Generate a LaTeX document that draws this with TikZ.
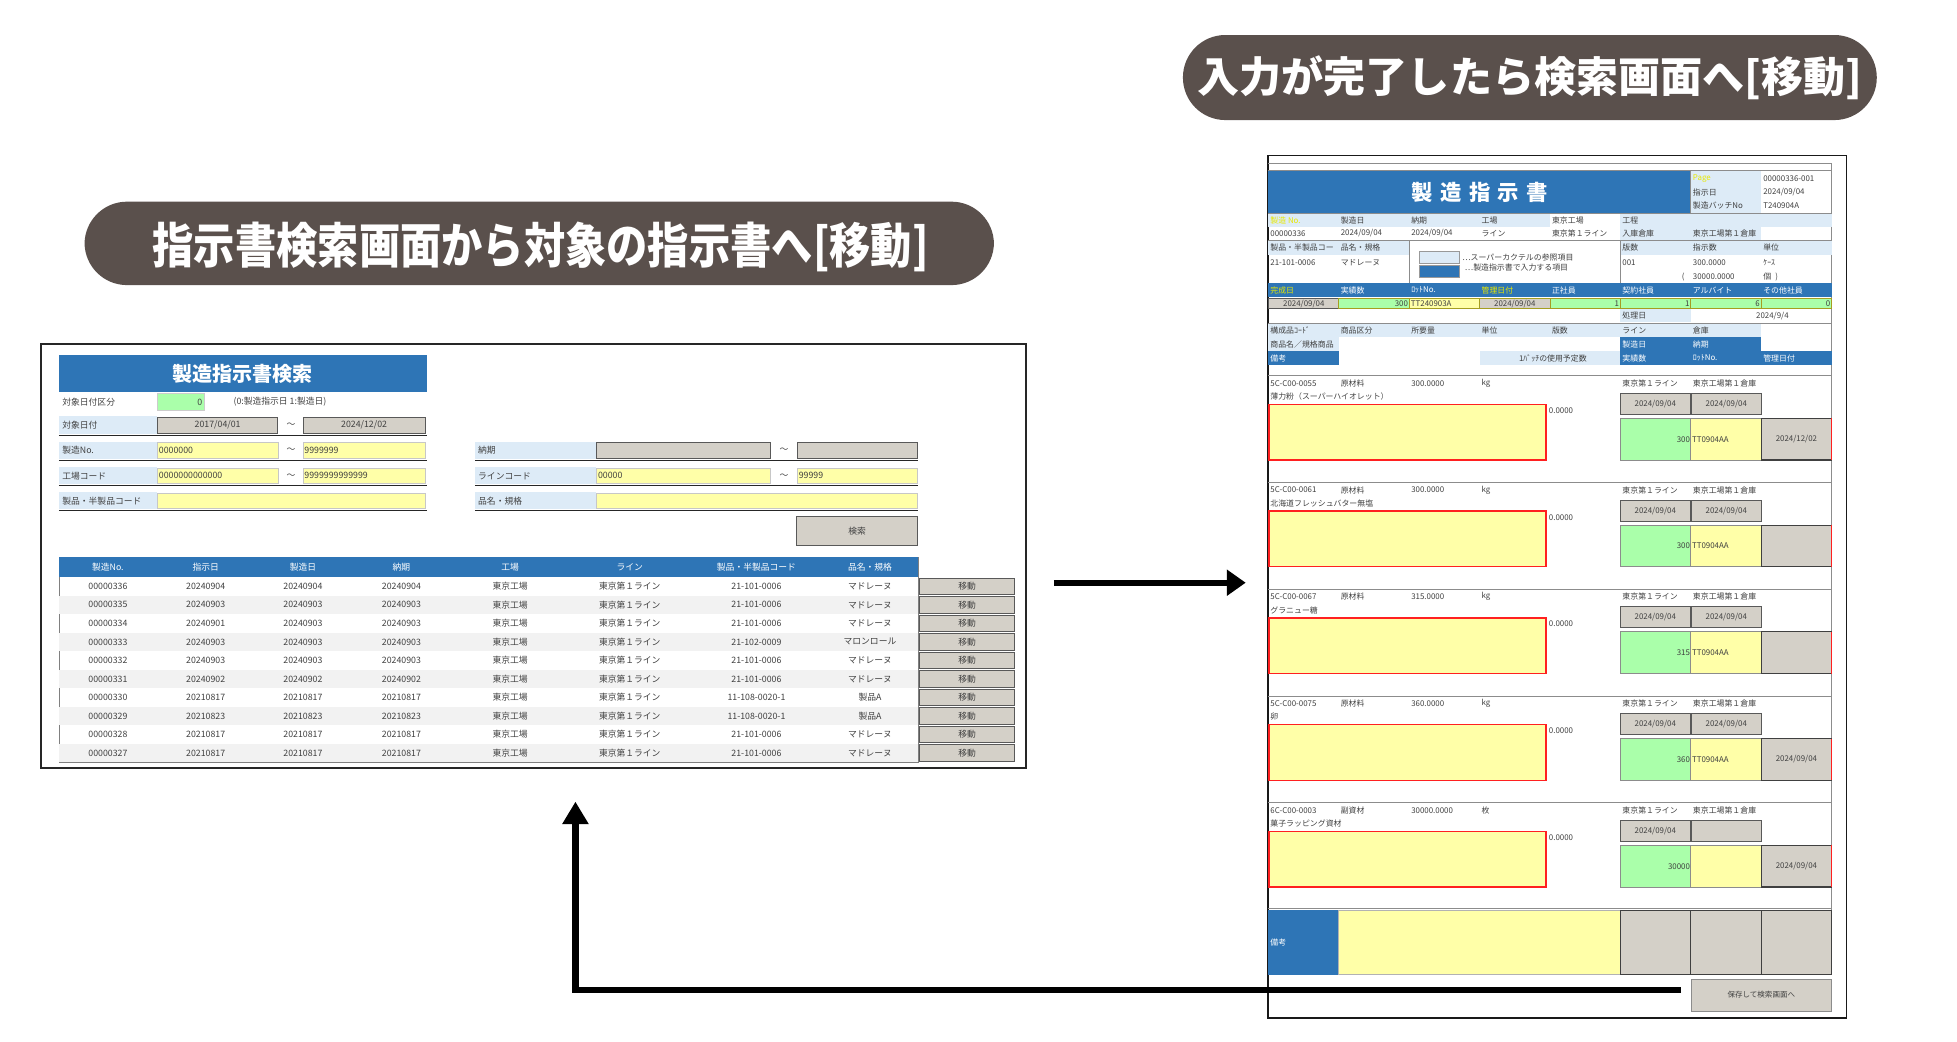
\documentclass[tikz,border=0pt]{standalone}
\usepackage{fontspec}
\usepackage{graphicx}
\setmainfont{Noto Sans CJK JP}
\usetikzlibrary{arrows.meta}
\definecolor{xblue}{HTML}{2E75B6}
\definecolor{xlb}{HTML}{DDEBF7}
\definecolor{xyel}{HTML}{FFFFA8}
\definecolor{xgrn}{HTML}{AAFFAA}
\definecolor{xgry}{HTML}{D4D0C8}
\definecolor{xban}{HTML}{5A504C}
\definecolor{xtxt}{HTML}{404040}
\definecolor{xrow}{HTML}{F2F2F2}
\definecolor{xred}{HTML}{FF2020}
\definecolor{xpage}{HTML}{E8E800}
\newcommand\dA{2024/09/04}
\newcommand\dB{2024/12/02}
\begin{document}
\begin{tikzpicture}[x=1pt,y=-1pt,
  lt/.style={font=\fontsize{7}{8}\selectfont, text=xtxt, inner sep=0pt},
  ltw/.style={font=\fontsize{7}{8}\selectfont, text=white, inner sep=0pt},
  st/.style={font=\fontsize{6.3}{7}\selectfont, text=xtxt, inner sep=0pt, anchor=west},
  stw/.style={st, text=white},
  gbox/.style={fill=xgry, draw=black!65, line width=0.7pt},
  ybox/.style={fill=xyel, draw=black!22, line width=0.5pt},
  grnbox/.style={fill=xgrn, draw=black!55, line width=0.6pt},
  banner/.style={fill=xban, rounded corners=33.8pt, inner sep=0pt},
  bantext/.style={inner sep=0pt, text=white, font=\bfseries},
  bigarrow/.style={line width=5pt, draw=black}
]
\useasboundingbox (0,0) rectangle (1560,830.6);

% ---------------- banners
\node[banner, minimum width=553.1pt, minimum height=67.8pt] (rban) at (1219.5,61.8) {};
\node[bantext] (rbantxt) at (1219.5,61.8)
  {\fontsize{33.5}{36}\selectfont 入力が完了したら検索画面へ[移動]};
\node[banner, minimum width=724.9pt, minimum height=66.5pt] (lban) at (429.85,194)  {};
\node[bantext] (lbantxt) at (431,197)
  {\scalebox{0.94}[1.1]{\fontsize{35}{37}\selectfont 指示書検索画面から対象の指示書へ[移動]}};

% ---------------- left panel
\draw[line width=1.6pt, black!85] (33,274) rectangle (818,612.5);
\fill[xblue] (47,283) rectangle (340,312.5);
\node[font=\bfseries\fontsize{16}{18}\selectfont, text=white, inner sep=0pt] (ltitle) at (193.5,298) {製造指示書検索};

\node[lt, anchor=west] (l0) at (49.5,320.5) {対象日付区分};
\filldraw[fill=xgrn, draw=black!20] (125.5,313.5) rectangle (163,327);
\node[lt, anchor=east] (l0v) at (161.5,320.5) {0};
\node[lt, anchor=west] (l0h) at (186,320.5) {(0:製造指示日 1:製造日)};

% row 1
\fill[xlb] (47,332) rectangle (125,346);
\node[lt, anchor=west] (l1) at (49.5,339) {対象日付};
\filldraw[gbox] (125.5,332.5) rectangle (221.5,345.5);
\node[lt] (l1a) at (173.5,339) {2017/04/01};
\node[lt] (l1t) at (232,339) {～};
\filldraw[gbox] (241.5,332.5) rectangle (339,345.5);
\node[lt] (l1b) at (290.25,339) {2024/12/02};
\draw[black!85, line width=0.7pt] (47,347) -- (340,347);

% row 2
\fill[xlb] (47,352) rectangle (125,366);
\node[lt, anchor=west] (l2) at (49.5,359) {製造No.};
\filldraw[ybox] (125.5,352.5) rectangle (221.5,365.5);
\node[lt, anchor=west] (l2a) at (126.5,359) {0000000};
\node[lt] (l2t) at (232,359) {～};
\filldraw[ybox] (241.5,352.5) rectangle (339,365.5);
\node[lt, anchor=west] (l2b) at (242.5,359) {9999999};
\draw[black!85, line width=0.7pt] (47,366.8) -- (340,366.8);
\fill[xlb] (378.5,352) rectangle (474.9,366);
\node[lt, anchor=west] (r2) at (381,359) {納期};
\filldraw[gbox] (475.4,352.5) rectangle (614.4,365.5);
\node[lt] (r2t) at (625,359) {～};
\filldraw[gbox] (635.6,352.5) rectangle (731.5,365.5);
\draw[black!85, line width=0.7pt] (378.5,366.8) -- (731.5,366.8);

% row 3
\fill[xlb] (47,372.5) rectangle (125,386);
\node[lt, anchor=west] (l3) at (49.5,379.25) {工場コード};
\filldraw[ybox] (125.5,373) rectangle (221.5,385.5);
\node[lt, anchor=west] (l3a) at (126.5,379.25) {0000000000000};
\node[lt] (l3t) at (232,379.25) {～};
\filldraw[ybox] (241.5,373) rectangle (339,385.5);
\node[lt, anchor=west] (l3b) at (242.5,379.25) {9999999999999};
\draw[black!85, line width=0.7pt] (47,387) -- (340,387);
\fill[xlb] (378.5,372.5) rectangle (474.9,386);
\node[lt, anchor=west] (r3) at (381,379.25) {ラインコード};
\filldraw[ybox] (475.4,373) rectangle (614.4,385.5);
\node[lt, anchor=west] (r3a) at (476.5,379.25) {00000};
\node[lt] (r3t) at (625,379.25) {～};
\filldraw[ybox] (635.6,373) rectangle (731.5,385.5);
\node[lt, anchor=west] (r3b) at (636.6,379.25) {99999};
\draw[black!85, line width=0.7pt] (378.5,387) -- (731.5,387);

% row 4
\fill[xlb] (47,392.5) rectangle (125,406);
\node[lt, anchor=west] (l4) at (49.5,399.25) {製品・半製品コード};
\filldraw[ybox] (125.5,393) rectangle (339,405.5);
\draw[black!85, line width=0.7pt] (47,407) -- (340,407);
\fill[xlb] (378.5,392.5) rectangle (474.9,406);
\node[lt, anchor=west] (r4) at (381,399.25) {品名・規格};
\filldraw[ybox] (475.4,393) rectangle (731.5,405.5);
\draw[black!85, line width=0.7pt] (378.5,407) -- (731.5,407);

% search button
\filldraw[gbox] (635,412) rectangle (731.5,434.5);
\node[lt] (sbtn) at (683.25,423.25) {検索};

% table
\filldraw[fill=white, draw=black!50, line width=0.6pt] (47,444) rectangle (732,607.5);
\fill[xblue] (47,444) rectangle (732,460);
\foreach \hx/\hdt [count=\hn] in {86/製造No.,164/指示日,241.5/製造日,320/納期,406.6/工場,502/ライン,603/製品・半製品コード,693.5/品名・規格}
  \node[ltw] (th\hn) at (\hx,452) {\hdt};
\foreach \ri in {1,3,5,7,9}
  \fill[xrow] (47.4,{460+14.75*\ri}) rectangle (731.6,{474.75+14.75*\ri});
\draw[black!50, line width=0.6pt] (47,607.5) -- (732,607.5);
\foreach \ri/\ta/\tb/\tcc/\td/\te/\tf in {
 0/00000336/20240904/20240904/20240904/21-101-0006/マドレーヌ,
 1/00000335/20240903/20240903/20240903/21-101-0006/マドレーヌ,
 2/00000334/20240901/20240903/20240903/21-101-0006/マドレーヌ,
 3/00000333/20240903/20240903/20240903/21-102-0009/マロンロール,
 4/00000332/20240903/20240903/20240903/21-101-0006/マドレーヌ,
 5/00000331/20240902/20240902/20240902/21-101-0006/マドレーヌ,
 6/00000330/20210817/20210817/20210817/11-108-0020-1/製品A,
 7/00000329/20210823/20210823/20210823/11-108-0020-1/製品A,
 8/00000328/20210817/20210817/20210817/21-101-0006/マドレーヌ,
 9/00000327/20210817/20210817/20210817/21-101-0006/マドレーヌ}
{
  \pgfmathsetmacro\ry{467.4+14.75*\ri}
  \node[lt] (tra\ri) at (86,\ry) {\ta};
  \node[lt] (trb\ri) at (164,\ry) {\tb};
  \node[lt] (trc\ri) at (241.5,\ry) {\tcc};
  \node[lt] (trd\ri) at (320,\ry) {\td};
  \node[lt] (tre\ri) at (406.6,\ry) {東京工場};
  \node[lt] (trf\ri) at (502,\ry) {東京第１ライン};
  \node[lt] (trg\ri) at (603,\ry) {\te};
  \node[lt] (trh\ri) at (693.5,\ry) {\tf};
  \filldraw[gbox] (733,{\ry-6.7}) rectangle (809,{\ry+6.6});
  \node[lt] (trm\ri) at (771,\ry) {移動};
}

% ---------------- right panel
\begin{scope}[xshift=-6pt]
\draw[line width=1.3pt, black!90] (1017,124) rectangle (1478,811.5);
\draw[black!45, line width=0.8pt] (1017,130) -- (1466,130) -- (1466,777);

% title block
\fill[xblue] (1017,136) rectangle (1353.8,170);
\node[font=\bfseries\fontsize{17}{19}\selectfont, text=white, inner sep=0pt] (stitle) at (1185.5,153)
  {製\hspace{6pt}造\hspace{6pt}指\hspace{6pt}示\hspace{6pt}書};
\fill[xlb] (1353.8,136) rectangle (1409.9,170);
\node[st, text=xpage] (pg) at (1355.3,142.1) {Page};
\node[st] (pgv) at (1411.4,142.1) {00000336-001};
\node[st] (pd) at (1355.3,153.3) {指示日};
\node[st] (pdv) at (1411.4,153.3) {2024/09/04};
\node[st] (pb) at (1355.3,163.8) {製造バッチNo};
\node[st] (pbv) at (1411.4,163.8) {T240904A};
\draw[black!45, line width=0.6pt] (1017,136) -- (1466,136);
\draw[black!45, line width=0.6pt] (1353.8,136) -- (1353.8,170);
\draw[black!45, line width=0.6pt] (1017,170) -- (1466,170);

% row A / B
\fill[xlb] (1017,170.4) rectangle (1241.5,180.8);
\fill[xlb] (1297.6,170.4) rectangle (1466,180.8);
\fill[xlb] (1297.6,180.8) rectangle (1409.9,191.2);
\node[st, text=xpage] (a0) at (1018.5,175.6) {製造 No.};
\node[st] (a1) at (1074.6,175.6) {製造日};
\node[st] (a2) at (1130.8,175.6) {納期};
\node[st] (a3) at (1186.9,175.6) {工場};
\node[st] (a4) at (1243,175.6) {東京工場};
\node[st] (a5) at (1299.1,175.6) {工程};
\node[st] (b0) at (1018.5,186) {00000336};
\node[st] (b1) at (1074.6,186) {2024/09/04};
\node[st] (b2) at (1130.8,186) {2024/09/04};
\node[st] (b3) at (1186.9,186) {ライン};
\node[st] (b4) at (1243,186) {東京第１ライン};
\node[st] (b5) at (1299.1,186) {入庫倉庫};
\node[st] (b6) at (1355.3,186) {東京工場第１倉庫};
\draw[black!45, line width=0.6pt] (1017,191.5) -- (1466,191.5);

% block C
\fill[xlb] (1017,191.9) rectangle (1129.3,203.2);
\fill[xlb] (1297.6,191.9) rectangle (1466,203.2);
\node[st] (c0) at (1018.5,197.5) {製品・半製品コー};
\node[st] (c1) at (1074.6,197.5) {品名・規格};
\node[st] (c5) at (1299.1,197.5) {版数};
\node[st] (c6) at (1355.3,197.5) {指示数};
\node[st] (c7) at (1411.4,197.5) {単位};
\node[st] (d0) at (1018.5,209) {21-101-0006};
\node[st] (d1) at (1074.6,209) {マドレーヌ};
\node[st] (d5) at (1299.1,209) {001};
\node[st] (d6) at (1355.3,209) {300.0000};
\node[st] (d7) at (1411.4,209) {ｹｰｽ};
\node[st] (e5) at (1346.5,220.5) {(};
\node[st] (e6) at (1355.3,220.5) {30000.0000};
\node[st] (e7) at (1411.4,220.5) {個};
\node[st] (e8) at (1421,220.5) {)};
\draw[black!45, line width=0.6pt] (1129.3,191.5) -- (1129.3,225.5);
\draw[black!45, line width=0.6pt] (1297.6,191.5) -- (1297.6,225.5);
\filldraw[fill=xlb, draw=black!40, line width=0.5pt] (1137.2,200.1) rectangle (1169.2,209.9);
\filldraw[fill=xblue, draw=black!40, line width=0.5pt] (1137.2,211.5) rectangle (1169.2,221.3);
\node[st] (lg1) at (1171.5,205.1) {…スーパーカクテルの参照項目};
\node[st] (lg2) at (1173.5,213.4) {…製造指示書で入力する項目};

% blue header row
\fill[xblue] (1017,225.5) rectangle (1466,237);
\foreach \kk/\lbl/\lcol in {0/完成日/xpage,1/実績数/white,2/ﾛｯﾄNo./white,3/管理日付/xpage,4/正社員/white,5/契約社員/white,6/アルバイト/white,7/その他社員/white}
  \node[st, text=\lcol] (hd\kk) at ({1018.5+56.125*\kk},231.3) {\lbl};

% value row
\filldraw[gbox] (1017.5,237.8) rectangle (1073.1,246);
\node[st, anchor=center] (v0) at (1045.3,242.6) {2024/09/04};
\filldraw[grnbox, draw=olive!80] (1073.1,237.8) rectangle (1129.3,246);
\node[st, anchor=east] (v1) at (1128.5,241.9) {300};
\filldraw[fill=xyel, draw=olive!80, line width=0.6pt] (1129.3,237.8) rectangle (1185.4,246);
\node[st] (v2) at (1130.5,241.9) {TT240903A};
\filldraw[gbox, draw=olive!80] (1185.4,237.8) rectangle (1241.5,246);
\node[st, anchor=center] (v3) at (1213.5,242.6) {2024/09/04};
\foreach \kk/\lbl in {4/1,5/1,6/6,7/0}{
  \filldraw[grnbox, draw=olive!80] ({1017+56.125*\kk},237.8) rectangle ({1073.1+56.125*\kk},246);
  \node[st, anchor=east] (vv\kk) at ({1072.3+56.125*\kk},241.9) {\lbl};
}
\fill[xlb] (1297.6,246.3) rectangle (1353.8,257);
\node[st] (pr) at (1299.1,251.6) {処理日};
\node[st, anchor=east] (prv) at (1432,251.6) {2024/9/4};
\draw[black!45, line width=0.6pt] (1017,258) -- (1466,258);

% component header rows
\fill[xlb] (1017,258.5) rectangle (1409.9,269);
\foreach \kk/\lbl in {0/構成品ｺｰﾄﾞ,1/商品区分,2/所要量,3/単位,4/版数,5/ライン,6/倉庫}
  \node[st] (ch\kk) at ({1018.5+56.125*\kk},263.8) {\lbl};
\fill[xlb] (1017,269) rectangle (1073.1,280);
\node[st] (ci0) at (1018.5,274.5) {商品名／規格商品};
\fill[xblue] (1297.6,269) rectangle (1409.9,280);
\node[stw] (ci5) at (1299.1,274.5) {製造日};
\node[stw] (ci6) at (1355.3,274.5) {納期};
\fill[xblue] (1017,280) rectangle (1073.1,291);
\node[stw] (cj0) at (1018.5,285.5) {備考};
\fill[xlb] (1185.4,280) rectangle (1297.6,291);
\node[st, anchor=east] (cj3) at (1271,285.5) {1ﾊﾞｯﾁの使用予定数};
\fill[xblue] (1297.6,280) rectangle (1466,291);
\node[stw] (cj5) at (1299.1,285.5) {実績数};
\node[stw] (cj6) at (1355.3,285.5) {ﾛｯﾄNo.};
\node[stw] (cj7) at (1411.4,285.5) {管理日付};

% item blocks
\foreach \kk/\vic/\vit/\viq/\viu/\vinm/\vidb/\vinum/\vilot/\vimd in {
 0/5C-C00-0055/原材料/300.0000/kg/薄力粉（スーパーハイオレット）/\dA/300/TT0904AA/\dB,
 1/5C-C00-0061/原材料/300.0000/kg/北海道フレッシュバター無塩/\dA/300/TT0904AA/{},
 2/5C-C00-0067/原材料/315.0000/kg/グラニュー糖/\dA/315/TT0904AA/{},
 3/5C-C00-0075/原材料/360.0000/kg/卵/\dA/360/TT0904AA/\dA,
 4/6C-C00-0003/副資材/30000.0000/枚/菓子ラッピング資材/{}/30000/{}/\dA}
{
  \pgfmathsetmacro\sy{299.5+85.1*\kk}
  \draw[black!45, line width=0.8pt] (1017,\sy) -- (1466,\sy);
  \node[st] (ia\kk) at (1018.5,{\sy+6}) {\vic};
  \node[st] (ib\kk) at (1074.6,{\sy+6}) {\vit};
  \node[st] (ic\kk) at (1130.8,{\sy+6}) {\viq};
  \node[st] (id\kk) at (1186.9,{\sy+6}) {\viu};
  \node[st] (ie\kk) at (1299.1,{\sy+6}) {東京第１ライン};
  \node[st] (if\kk) at (1355.3,{\sy+6}) {東京工場第１倉庫};
  \node[st] (ig\kk) at (1018.5,{\sy+16.7}) {\vinm};
  \filldraw[fill=xyel, draw=xred, line width=1.1pt] (1017.6,{\sy+22.8}) rectangle (1238.3,{\sy+67.2});
  \node[st] (ih\kk) at (1240.5,{\sy+27.8}) {0.0000};
  \filldraw[gbox] (1297.6,{\sy+14}) rectangle (1353.3,{\sy+30.8});
  \node[st, anchor=center] (ii\kk) at (1325.5,{\sy+22.4}) {2024/09/04};
  \filldraw[gbox] (1354.4,{\sy+14}) rectangle (1409.9,{\sy+30.8});
  \node[st, anchor=center] (ij\kk) at (1382.1,{\sy+22.4}) {\vidb};
  \filldraw[fill=xgrn, draw=black!45, line width=0.7pt] (1297.6,{\sy+34}) rectangle (1353.8,{\sy+67.2});
  \node[st, anchor=east] (ik\kk) at (1353.3,{\sy+50.6}) {\vinum};
  \filldraw[fill=xyel, draw=black!45, line width=0.7pt] (1353.8,{\sy+34}) rectangle (1409.9,{\sy+67.2});
  \node[st] (il\kk) at (1354.6,{\sy+50.6}) {\vilot};
  \filldraw[fill=xgry, draw=black!75, line width=0.9pt] (1409.9,{\sy+34}) rectangle (1466,{\sy+67.2});
  \draw[xred, line width=0.9pt] (1466,{\sy+34}) -- (1466,{\sy+67.2});
  \node[st, anchor=center] (im\kk) at (1438,{\sy+50.6}) {\vimd};
}

% remarks block
\draw[black!45, line width=0.8pt] (1017,724.5) -- (1466,724.5);
\fill[xblue] (1017,725) rectangle (1073.1,777);
\node[stw] (bk) at (1018.5,751.2) {備考};
\filldraw[fill=xyel, draw=black!30, line width=0.5pt] (1073.1,725.5) rectangle (1297.6,776.5);
\foreach \kk in {5,6,7}
  \filldraw[fill=xgry, draw=black!75, line width=0.9pt] ({1017+56.125*\kk},725.5) rectangle ({1073.1+56.125*\kk},776.5);

% save button
\filldraw[fill=xgry, draw=black!45, line width=0.6pt] (1354,780.5) rectangle (1466,806);
\node[st, anchor=center, font=\fontsize{6}{7}\selectfont] (save) at (1410,793.2) {保存して検索画面へ};
\end{scope}

% ---------------- arrows
\coordinate (ra1) at (840,464.5);
\coordinate (ra2) at (993,464.5);
\draw[bigarrow, -{Triangle[length=15pt,width=20pt]}] (ra1) -- (ra2);
\coordinate (rb1) at (1340,789.2);
\coordinate (rb2) at (458.7,789.2);
\coordinate (rb3) at (458.7,639);
\draw[bigarrow, -{Triangle[length=18pt,width=20pt]}] (rb1) -- (rb2) -- (rb3);
\end{tikzpicture}
\end{document}
